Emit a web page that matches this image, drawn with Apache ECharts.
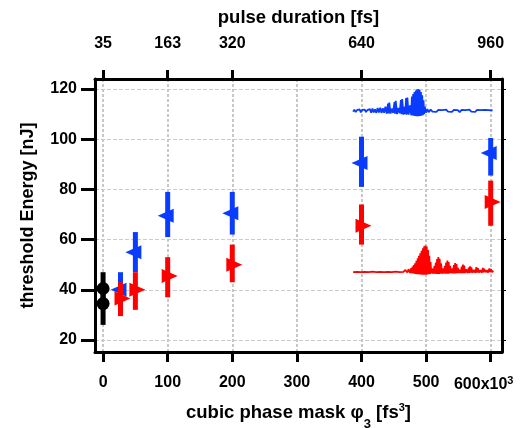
<!DOCTYPE html>
<html><head><meta charset="utf-8">
<script src="https://cdn.jsdelivr.net/npm/echarts@6/dist/echarts.min.js"></script>
<style>html,body{margin:0;padding:0;background:#fff}#c{width:526px;height:428px}</style>
</head><body><div id="c"></div>
<script>
// ---- axis ticks ----
const xTicks = [0, 100, 200, 300, 400, 500, 600];
const yTicks = [20, 40, 60, 80, 100, 120];
const topTickPos = [0, 100, 200, 400, 600];
const topTickLabels = ['35', '163', '320', '640', '960'];

// ---- data points (cubic phase, threshold energy, low, high) ----
const blueX = [27, 50, 100, 200, 400, 600];
const blueY = [40, 55, 69.5, 70.5, 90.5, 94.5];
const blueLow = [33, 47, 61, 62, 81, 85.5];
const blueHigh = [47, 63, 79, 79, 101, 100.5];

const redX = [27, 50, 100, 200, 400, 600];
const redY = [36.5, 40, 45.5, 50, 65.5, 75];
const redLow = [29.5, 32, 37, 43, 58, 65.5];
const redHigh = [43, 47, 53, 58, 74, 83.5];

const blackX = [0, 0];
const blackY = [40.5, 34.5];
const blackLow = [34, 26];
const blackHigh = [47, 41];

// ---- inset waveforms ([x, y]) ----
const blueWave = [[387,111.0],[389,111.8],[391,110.8],[393,111.6],[395,111.0],[397,111.9],[399,110.7],[401,111.7],[403,111.1],[405,111.8],[407,110.8],[409,111.6],[411,111.0],[413,112.0],[415,110.6],[417,112.2],[419,110.7],[421,111.9],[423,110.5],[425,112.4],[427,110.6],[429,112.6],[431,110.4],[433,112.3],[435,110.5],[437,113.0],[439,110.2],[441,114.2],[442,110.3],[443,114.6],[445,110.2],[447,112.2],[449,110.5],[451,114.8],[452,110.2],[453,115.3],[455,110.0],[457,112.5],[459,110.3],[461,115.6],[462,110.0],[463,116.0],[465,109.8],[467,113.0],[468,110.0],[469,116.4],[470,109.8],[471,116.6],[473,109.8],[475,113.5],[477,109.6],[478,117.0],[479,109.5],[480,118.0],[481,109.4],[482,118.8],[483,109.3],[484,119.4],[485,109.2],[486,119.8],[487,109.2],[488,120.0],[489,109.2],[490,119.6],[491,109.3],[492,118.8],[493,109.4],[494,117.5],[495,109.6],[496,115.5],[497,110.0],[498,113.0],[500,110.6],[502,112.0],[504,110.8],[507,111.8],[510,111.0],[513,111.6],[516,110.9],[519,111.7],[522,111.0],[525,111.6],[528,110.9],[531,111.8],[534,111.0],[537,111.6],[540,110.9],[543,111.7],[546,111.0],[549,111.6],[552,110.8],[555,111.7],[558,111.0],[561,111.6],[564,110.9],[567,111.8],[570,111.0],[573,111.6],[576,110.9],[579,111.7],[582,111.0],[585,111.6],[588,110.9],[591,111.7],[594,111.0],[597,111.6],[600,110.9],[603,111.5]];

const redWave = [[387,47.0],[390,47.6],[393,47.1],[396,47.7],[399,47.0],[402,47.5],[405,47.1],[408,47.8],[411,47.0],[414,47.6],[417,47.2],[420,47.8],[423,47.0],[426,47.6],[429,47.1],[432,47.7],[435,47.0],[438,47.6],[441,47.1],[444,47.8],[447,47.0],[450,47.6],[453,47.2],[456,47.7],[459,47.0],[462,47.6],[465,47.1],[468,47.9],[471,46.9],[473,48.2],[475,46.7],[477,48.6],[478,46.6],[479,49.2],[480,46.5],[481,49.8],[482,46.4],[483,50.5],[484,46.3],[485,51.5],[486,46.2],[487,52.5],[488,46.2],[489,53.5],[490,46.1],[491,54.5],[492,46.1],[493,55.5],[494,46.0],[495,56.5],[496,46.0],[497,57.3],[498,46.0],[499,57.6],[500,46.0],[501,57.2],[502,46.1],[503,55.8],[504,46.2],[505,53.5],[506,46.3],[507,51.0],[508,46.5],[509,48.5],[511,46.4],[513,49.5],[514,46.4],[515,50.8],[516,46.3],[517,52.2],[518,46.3],[519,53.0],[520,46.3],[521,52.3],[522,46.4],[523,50.5],[525,46.4],[527,48.5],[528,46.5],[529,49.5],[530,46.4],[531,50.8],[532,46.4],[533,51.6],[534,46.4],[535,51.0],[536,46.5],[537,49.5],[539,46.6],[541,48.5],[542,46.5],[543,49.8],[544,46.5],[545,50.6],[546,46.5],[547,50.2],[548,46.6],[549,48.8],[551,46.7],[553,48.0],[554,46.6],[555,49.2],[556,46.6],[557,50.0],[558,46.6],[559,49.6],[560,46.7],[562,48.2],[564,46.7],[566,48.8],[567,46.7],[568,49.3],[569,46.8],[570,48.9],[572,46.8],[574,47.9],[576,46.8],[578,49.0],[579,46.8],[580,48.6],[582,46.9],[584,47.8],[586,46.8],[588,48.7],[589,46.9],[590,48.3],[592,47.0],[594,47.8],[596,46.9],[598,48.5],[599,47.0],[600,48.2],[602,47.0],[604,47.6]];

const BLUE = '#0a3cff', RED = '#ff0000', BLACK = '#000000';
const FONT = "'Liberation Sans', Arial, sans-serif";

function zipErr(xs, lo, hi) { return xs.map((x, i) => [x, lo[i], hi[i]]); }
function zipPts(xs, ys) { return xs.map((x, i) => [x, ys[i]]); }

function errRender(params, api) {
  const x = api.value(0), lo = api.value(1), hi = api.value(2);
  const p1 = api.coord([x, hi]), p2 = api.coord([x, lo]);
  return { type: 'rect', shape: { x: p1[0] - 2.5, y: p1[1], width: 5, height: p2[1] - p1[1] },
           style: { fill: api.visual('color') } };
}

const chart = echarts.init(document.getElementById('c'), null, { renderer: 'canvas' });
const lblStyle = { color: '#000', fontFamily: FONT, fontWeight: 'bold', fontSize: 16 };

chart.setOption({
  animation: false,
  backgroundColor: '#fff',
  grid: { left: 95, right: 24, top: 79, bottom: 76, containLabel: false, outerBoundsMode: 'none' },
  xAxis: [
    {
      type: 'value', position: 'bottom', min: -12.5, max: 617.5,
      name: '{a|cubic phase mask φ}{sb|3}{a| [fs}{sp|3}{a|]}',
      nameLocation: 'middle', nameGap: 50,
      nameTextStyle: {
        rich: {
          a: { fontFamily: FONT, fontWeight: 'bold', fontSize: 18.5, color: '#000', lineHeight: 22 },
          sb: { fontFamily: FONT, fontWeight: 'bold', fontSize: 13, color: '#000', verticalAlign: 'bottom', lineHeight: 22, padding: [0, 0, -7, 0] },
          sp: { fontFamily: FONT, fontWeight: 'bold', fontSize: 11, color: '#000', verticalAlign: 'top', lineHeight: 22, padding: [0, 0, 10, 0] }
        }
      },
      axisLine: { show: true, onZero: false, lineStyle: { color: '#000', width: 3 } },
      axisTick: { show: true, customValues: xTicks, length: 10, lineStyle: { color: '#000', width: 3 } },
      axisLabel: {
        customValues: xTicks, margin: 23, ...lblStyle,
        formatter: v => v === 600 ? '{m|600x10}{s|3}{p|}' : String(v),
        rich: {
          m: { ...lblStyle },
          s: { ...lblStyle, fontSize: 11, verticalAlign: 'top', padding: [0, 0, 8, 0] },
          p: { width: 14 }
        }
      },
      splitLine: { show: true, lineStyle: { color: '#c8c8c8', width: 2, type: [3, 2] } }
    },
    {
      type: 'value', position: 'top', min: -12.5, max: 617.5,
      name: 'pulse duration [fs]', nameLocation: 'middle', nameGap: 52,
      nameTextStyle: { fontFamily: FONT, fontWeight: 'bold', fontSize: 18.5, color: '#000' },
      axisLine: { show: true, onZero: false, lineStyle: { color: '#000', width: 3 } },
      axisTick: { show: true, customValues: topTickPos, length: 9, lineStyle: { color: '#000', width: 3 } },
      axisLabel: {
        customValues: topTickPos, margin: 27, ...lblStyle,
        formatter: v => { const i = topTickPos.indexOf(v); return i >= 0 ? topTickLabels[i] : ''; }
      },
      splitLine: { show: false }
    }
  ],
  yAxis: [
    {
      type: 'value', position: 'left', min: 15.2, max: 124,
      name: 'threshold Energy [nJ]', nameLocation: 'middle', nameGap: 58,
      nameTextStyle: { fontFamily: FONT, fontWeight: 'bold', fontSize: 18, color: '#000' },
      axisLine: { show: true, onZero: false, lineStyle: { color: '#000', width: 3 } },
      axisTick: { show: true, customValues: yTicks, length: 14, lineStyle: { color: '#000', width: 3 } },
      axisLabel: { customValues: yTicks, margin: 18, ...lblStyle },
      splitLine: { show: true, lineStyle: { color: '#cccccc', width: 1, type: [4, 2] } }
    },
    {
      type: 'value', position: 'right', min: 15.2, max: 124,
      axisLine: { show: true, onZero: false, lineStyle: { color: '#000', width: 3 } },
      axisTick: { show: true, customValues: yTicks, length: 4, lineStyle: { color: '#000', width: 1 } },
      axisLabel: { show: false },
      splitLine: { show: false }
    }
  ],
  series: [
    { type: 'line', data: blueWave, showSymbol: false, symbol: 'none', lineStyle: { color: BLUE, width: 1.8 }, z: 2 },
    { type: 'line', data: redWave, showSymbol: false, symbol: 'none', lineStyle: { color: RED, width: 1.8 }, z: 2 },
    { type: 'custom', renderItem: errRender, data: zipErr(blueX, blueLow, blueHigh), itemStyle: { color: BLUE }, z: 3 },
    { type: 'scatter', data: zipPts(blueX, blueY), symbol: 'path://M16,0 L0,7 L16,14 Z', symbolSize: [16, 14], symbolOffset: [-2, 0], itemStyle: { color: BLUE, opacity: 1 }, z: 3 },
    { type: 'custom', renderItem: errRender, data: zipErr(redX, redLow, redHigh), itemStyle: { color: RED }, z: 4 },
    { type: 'scatter', data: zipPts(redX, redY), symbol: 'path://M0,0 L16,7 L0,14 Z', symbolSize: [16, 14], symbolOffset: [2, 0], itemStyle: { color: RED, opacity: 1 }, z: 4 },
    { type: 'custom', renderItem: errRender, data: zipErr(blackX, blackLow, blackHigh), itemStyle: { color: BLACK }, z: 5 },
    { type: 'scatter', data: zipPts(blackX, blackY), symbol: 'circle', symbolSize: 13, itemStyle: { color: BLACK, opacity: 1 }, z: 5 }
  ]
});
</script></body></html>
